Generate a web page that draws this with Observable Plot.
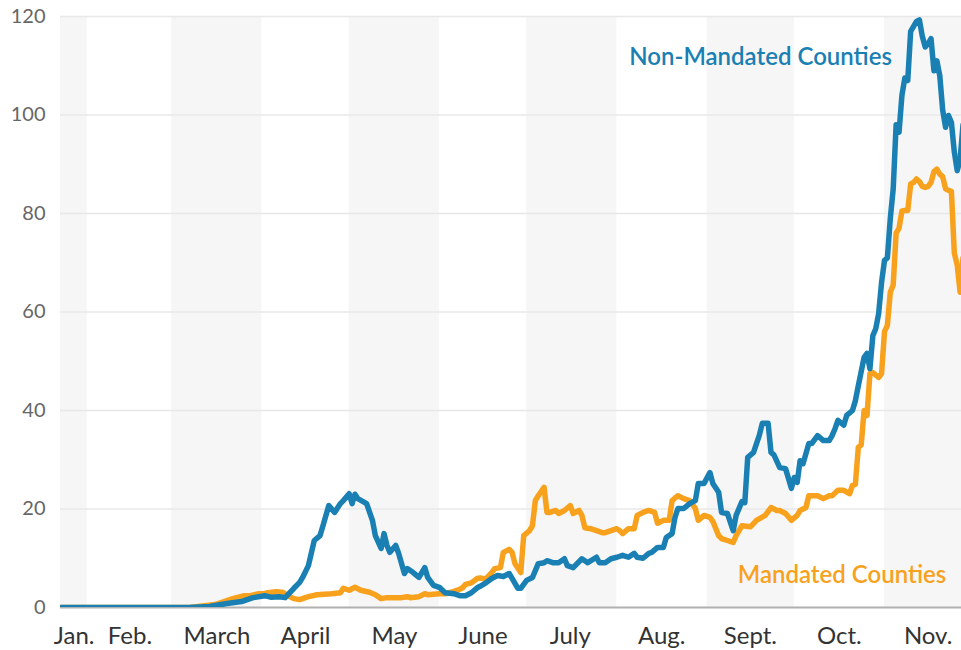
<!DOCTYPE html>
<html><head><meta charset="utf-8">
<script src="https://cdn.jsdelivr.net/npm/d3@7"></script>
<script src="https://cdn.jsdelivr.net/npm/@observablehq/plot@0.6"></script>
<style>
html,body{margin:0;padding:0;background:#fff;}
#chart{width:961px;height:650px;overflow:hidden;}
</style></head><body><div id="chart"></div>
<script>
const nonDates = ["2020-01-23","2020-03-07","2020-03-14","2020-03-20","2020-03-25","2020-03-29","2020-04-02","2020-04-04","2020-04-07","2020-04-09","2020-04-12","2020-04-14","2020-04-15","2020-04-17","2020-04-19","2020-04-21","2020-04-22","2020-04-24","2020-04-26","2020-04-28","2020-04-29","2020-05-01","2020-05-02","2020-05-03","2020-05-04","2020-05-07","2020-05-09","2020-05-10","2020-05-12","2020-05-13","2020-05-14","2020-05-15","2020-05-17","2020-05-18","2020-05-20","2020-05-21","2020-05-23","2020-05-25","2020-05-27","2020-05-28","2020-05-30","2020-06-01","2020-06-03","2020-06-06","2020-06-08","2020-06-10","2020-06-12","2020-06-14","2020-06-15","2020-06-17","2020-06-19","2020-06-21","2020-06-23","2020-06-25","2020-06-26","2020-06-28","2020-06-29","2020-07-01","2020-07-03","2020-07-05","2020-07-07","2020-07-08","2020-07-10","2020-07-12","2020-07-14","2020-07-15","2020-07-17","2020-07-20","2020-07-22","2020-07-25","2020-07-26","2020-07-28","2020-07-30","2020-08-01","2020-08-03","2020-08-05","2020-08-07","2020-08-08","2020-08-10","2020-08-12","2020-08-13","2020-08-15","2020-08-17","2020-08-18","2020-08-20","2020-08-21","2020-08-22","2020-08-24","2020-08-26","2020-08-28","2020-08-29","2020-08-31","2020-09-02","2020-09-03","2020-09-05","2020-09-06","2020-09-08","2020-09-10","2020-09-11","2020-09-13","2020-09-14","2020-09-15","2020-09-17","2020-09-19","2020-09-20","2020-09-22","2020-09-23","2020-09-24","2020-09-26","2020-09-28","2020-09-30","2020-10-01","2020-10-02","2020-10-03","2020-10-04","2020-10-06","2020-10-07","2020-10-09","2020-10-11","2020-10-13","2020-10-14","2020-10-15","2020-10-16","2020-10-18","2020-10-19","2020-10-21","2020-10-22","2020-10-23","2020-10-25","2020-10-26","2020-10-27","2020-10-28","2020-10-29","2020-10-30","2020-10-31","2020-11-01","2020-11-02","2020-11-03","2020-11-04","2020-11-05","2020-11-06","2020-11-07","2020-11-08","2020-11-09","2020-11-10","2020-11-11","2020-11-12","2020-11-13","2020-11-14","2020-11-15","2020-11-16","2020-11-17","2020-11-18","2020-11-19","2020-11-20","2020-11-21","2020-11-22","2020-11-23","2020-11-24","2020-11-25","2020-11-26","2020-11-27","2020-11-28"];
const nonValues = [0,0,0.2,0.8,1.2,2.0,2.4,2.1,2.2,2.0,3.9,5.1,6.1,8.5,13.6,14.6,16.6,20.7,19.3,21.1,21.7,23.1,21.1,23.0,22.1,21.1,17.7,14.6,12.0,15.0,12.6,11.2,12.6,11.0,6.9,7.9,7.1,6.1,8.1,6.1,4.5,4.1,3.0,2.8,2.4,2.4,3.0,4.0,4.3,5.0,5.9,6.5,6.3,6.9,5.9,3.9,3.9,5.5,6.1,8.9,9.1,9.5,9.1,9.1,9.9,8.5,8.1,9.9,9.1,10.2,9.1,9.1,9.9,10.2,10.6,10.2,11.0,10.2,10.0,11.0,11.2,12.2,12.2,14.2,15.0,18.3,20.1,20.1,21.1,21.7,25.2,25.2,27.4,25.2,23.4,19.3,19.1,15.6,18.7,21.5,21.3,30.5,31.5,35.0,37.4,37.4,31.5,31.0,28.4,28.2,24.2,26.4,25.4,29.8,29.2,33.3,33.3,34.9,33.9,33.9,34.9,36.3,38.0,37.0,39.0,40.0,42.0,45.0,50.8,51.6,48.5,55.2,56.6,59.7,66,70.5,71,79,85,98,96.5,104,107.5,107,117,118,119,119.3,116,113.8,114.5,115.5,109,111,108,101,97.5,99.9,98.5,92.5,88.7,91,98];

const manDates = ["2020-01-23","2020-03-07","2020-03-16","2020-03-22","2020-03-26","2020-03-28","2020-03-31","2020-04-02","2020-04-03","2020-04-06","2020-04-08","2020-04-10","2020-04-12","2020-04-14","2020-04-17","2020-04-20","2020-04-25","2020-04-28","2020-04-29","2020-05-01","2020-05-03","2020-05-05","2020-05-08","2020-05-10","2020-05-12","2020-05-14","2020-05-16","2020-05-19","2020-05-21","2020-05-22","2020-05-25","2020-05-27","2020-05-28","2020-06-01","2020-06-03","2020-06-05","2020-06-08","2020-06-09","2020-06-10","2020-06-12","2020-06-14","2020-06-15","2020-06-17","2020-06-19","2020-06-20","2020-06-22","2020-06-23","2020-06-25","2020-06-26","2020-06-27","2020-06-29","2020-06-30","2020-07-02","2020-07-03","2020-07-04","2020-07-05","2020-07-07","2020-07-08","2020-07-09","2020-07-11","2020-07-12","2020-07-14","2020-07-16","2020-07-17","2020-07-19","2020-07-20","2020-07-21","2020-07-23","2020-07-25","2020-07-27","2020-07-28","2020-07-30","2020-08-01","2020-08-02","2020-08-03","2020-08-05","2020-08-07","2020-08-08","2020-08-10","2020-08-12","2020-08-14","2020-08-15","2020-08-17","2020-08-19","2020-08-20","2020-08-22","2020-08-24","2020-08-26","2020-08-28","2020-08-29","2020-08-31","2020-09-02","2020-09-03","2020-09-05","2020-09-06","2020-09-08","2020-09-10","2020-09-11","2020-09-13","2020-09-16","2020-09-18","2020-09-21","2020-09-23","2020-09-25","2020-09-26","2020-09-28","2020-09-30","2020-10-02","2020-10-03","2020-10-05","2020-10-06","2020-10-09","2020-10-11","2020-10-13","2020-10-14","2020-10-16","2020-10-18","2020-10-20","2020-10-21","2020-10-22","2020-10-23","2020-10-24","2020-10-25","2020-10-26","2020-10-27","2020-10-28","2020-10-30","2020-10-31","2020-11-01","2020-11-02","2020-11-03","2020-11-04","2020-11-05","2020-11-06","2020-11-07","2020-11-08","2020-11-09","2020-11-10","2020-11-11","2020-11-12","2020-11-13","2020-11-14","2020-11-15","2020-11-16","2020-11-17","2020-11-18","2020-11-19","2020-11-20","2020-11-21","2020-11-22","2020-11-23","2020-11-24","2020-11-25","2020-11-26","2020-11-27","2020-11-28"];
const manValues = [0,0,0.6,1.8,2.4,2.4,2.8,2.8,3.0,3.2,3.1,2.4,1.8,1.6,2.2,2.6,2.8,3.0,3.9,3.5,4.1,3.5,3.1,2.6,1.8,2.0,2.0,2.0,2.2,2.0,2.2,2.8,2.6,2.8,2.8,3.1,3.7,4.0,4.7,5.0,5.9,6.0,5.8,7.1,7.9,8.1,11.2,11.8,11.2,8.9,7.1,14.6,15.6,16.6,21.7,22.7,24.4,19.3,19.3,19.7,19.1,19.7,20.7,19.1,19.7,18.7,16.2,16.0,15.6,15.2,15.2,15.6,16.0,15.6,15.0,16.0,16.0,18.7,19.3,19.7,19.3,17.1,17.7,17.7,21.7,22.7,22.1,21.7,20.1,17.7,18.7,18.3,17.5,14.6,14.0,13.6,13.2,14.6,16.6,16.4,17.7,18.7,20.3,19.7,19.7,19.1,17.7,18.7,19.7,20.3,22.7,22.7,22.1,22.7,22.7,23.8,23.8,23.1,24.8,25.0,32.5,33.0,40.0,39.0,47.5,47.7,46.7,47.5,56,57.3,64,65.5,76,77,80.5,80.6,80.6,86,86.3,87,86.5,85.5,85.3,85.5,86.3,88.5,89,88,87.5,85,84.7,84.5,72,69.5,64,71];

const bandStarts = ["2020-01-01","2020-03-01","2020-05-01","2020-07-01","2020-09-01","2020-11-01"];
const bandEnds   = ["2020-02-01","2020-04-01","2020-06-01","2020-08-01","2020-10-01","2020-12-01"];

const monthLabelDates = ["2020-01-27T12:00","2020-02-15T16:00","2020-03-16T14:00","2020-04-16","2020-05-16T14:00","2020-06-16","2020-07-16","2020-08-16T10:00","2020-09-15T22:00","2020-10-16T12:00","2020-11-16"];
const monthLabels = ["Jan.","Feb.","March","April","May","June","July","Aug.","Sept.","Oct.","Nov."];

const yTicks = [0,20,40,60,80,100,120];

const seriesNames = ["Non-Mandated Counties","Mandated Counties"];
const labelDates = ["2020-09-19T10:00","2020-10-17T10:00"];
const labelValues = [111.8,6.6];

const parse = s => new Date(s.length === 10 ? s + "T00:00:00Z" : s + ":00Z");
const nonMandated = nonDates.map((d,i)=>({date: parse(d), value: nonValues[i]}));
const mandated = manDates.map((d,i)=>({date: parse(d), value: manValues[i]}));
const bands = bandStarts.map((d,i)=>({start: parse(d), end: parse(bandEnds[i])}));
const labelMap = new Map(monthLabelDates.map((d,i)=>[+parse(d), monthLabels[i]]));
const annotations = seriesNames.map((n,i)=>({name:n, date: parse(labelDates[i]), value: labelValues[i]}));

const BLUE = "#1a80b3", ORANGE = "#f8a11c";

const chart = Plot.plot({
  width: 961, height: 650,
  marginLeft: 60, marginRight: 0, marginTop: 16, marginBottom: 43,
  style: {fontFamily: "Lato, 'Open Sans', sans-serif", background: "#fff", overflow: "hidden"},
  x: {type: "utc", domain: [parse("2020-01-22T19:00"), parse("2020-11-27T11:20")]},
  y: {domain: [0,120]},
  marks: [
    Plot.rect(bands, {x1: "start", x2: "end", fill: "#f6f6f6", clip: true}),
    Plot.ruleY(yTicks.filter(d=>d>0), {stroke: "#e8e8e8", strokeWidth: 1.5}),
    Plot.ruleY([0], {stroke: "#b0b0b0", strokeWidth: 2}),
    Plot.line(mandated, {x: "date", y: "value", stroke: ORANGE, strokeWidth: 5.5, strokeLinejoin: "round", strokeLinecap: "round", clip: true}),
    Plot.line(nonMandated, {x: "date", y: "value", stroke: BLUE, strokeWidth: 5.5, strokeLinejoin: "round", strokeLinecap: "round", clip: true}),
    Plot.axisY({ticks: yTicks, tickSize: 0, tickPadding: 15, fontSize: 20, color: "#666", label: null}),
    Plot.axisX({ticks: monthLabelDates.map(parse), tickFormat: d => labelMap.get(+d), tickSize: 0, tickPadding: 19, fontSize: 24, color: "#333", label: null}),
    Plot.text(annotations, {x: "date", y: "value", text: "name", fill: (d,i)=> i === 0 ? BLUE : ORANGE, fontSize: 24, fontWeight: 600, textAnchor: "middle"})
  ]
});
document.getElementById("chart").appendChild(chart);
</script>
</body></html>
